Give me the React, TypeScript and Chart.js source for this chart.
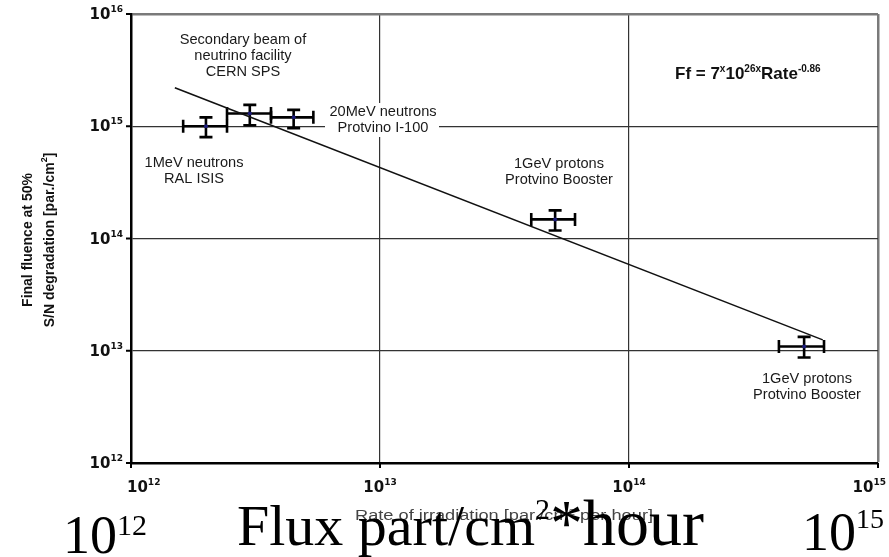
import React, { useEffect, useRef } from "react";
import { Chart, registerables } from "chart.js";

Chart.register(...registerables);

// ---- data ----
const rateCenter = [2.0e12, 3.0e12, 4.5e12, 5.05e13, 5.05e14];
const rateLow = [1.62e12, 2.43e12, 3.65e12, 4.05e13, 4.0e14];
const rateHigh = [2.43e12, 3.65e12, 5.4e12, 6.07e13, 6.07e14];
const fluence = [1.0e15, 1.3e15, 1.2e15, 1.48e14, 1.09e13];
const fluenceLow = [8.0e14, 1.02e15, 0.96e15, 1.18e14, 8.7e12];
const fluenceHigh = [1.2e15, 1.55e15, 1.4e15, 1.78e14, 1.33e13];

const fitRate = [1.5e12, 6.0e14];
const fitFluence = [2.2e15, 1.25e13];

const xTickValues = [1e12, 1e13, 1e14, 1e15];
const xTickExponents = ["12", "13", "14", "15"];
const yTickValues = [1e12, 1e13, 1e14, 1e15, 1e16];
const yTickExponents = ["12", "13", "14", "15", "16"];

type Piece = { text: string; font: string; dy?: number };

function richWidth(ctx: CanvasRenderingContext2D, pieces: Piece[]) {
  let w = 0;
  for (const p of pieces) {
    ctx.font = p.font;
    w += ctx.measureText(p.text).width;
  }
  return w;
}

function drawRich(
  ctx: CanvasRenderingContext2D,
  pieces: Piece[],
  x: number,
  y: number,
  align: "left" | "center" | "right" = "left"
) {
  const w = richWidth(ctx, pieces);
  let cx = align === "left" ? x : align === "center" ? x - w / 2 : x - w;
  ctx.textAlign = "left";
  for (const p of pieces) {
    ctx.font = p.font;
    ctx.fillText(p.text, cx, y + (p.dy || 0));
    cx += ctx.measureText(p.text).width;
  }
}

const SANS = '"Liberation Sans", Arial, sans-serif';
const SERIF = '"Liberation Serif", "Times New Roman", serif';

const decorPlugin = {
  id: "decor",
  beforeDatasetsDraw(chart: any) {
    const ctx: CanvasRenderingContext2D = chart.ctx;
    const xs = chart.scales.x;
    const ys = chart.scales.y;
    ctx.save();
    ctx.strokeStyle = "#000";
    ctx.lineWidth = 2.6;
    const cap = 6.5;
    for (let i = 0; i < rateCenter.length; i++) {
      const px = xs.getPixelForValue(rateCenter[i]);
      const py = ys.getPixelForValue(fluence[i]);
      const xl = xs.getPixelForValue(rateLow[i]);
      const xh = xs.getPixelForValue(rateHigh[i]);
      const yl = ys.getPixelForValue(fluenceLow[i]);
      const yh = ys.getPixelForValue(fluenceHigh[i]);
      ctx.beginPath();
      ctx.moveTo(xl, py);
      ctx.lineTo(xh, py);
      ctx.moveTo(xl, py - cap);
      ctx.lineTo(xl, py + cap);
      ctx.moveTo(xh, py - cap);
      ctx.lineTo(xh, py + cap);
      ctx.moveTo(px, yl);
      ctx.lineTo(px, yh);
      ctx.moveTo(px - cap, yl);
      ctx.lineTo(px + cap, yl);
      ctx.moveTo(px - cap, yh);
      ctx.lineTo(px + cap, yh);
      ctx.stroke();
    }
    ctx.restore();
  },
  afterDraw(chart: any) {
    const ctx: CanvasRenderingContext2D = chart.ctx;
    const xs = chart.scales.x;
    const ys = chart.scales.y;
    const area = chart.chartArea;
    ctx.save();

    // tick marks
    ctx.strokeStyle = "#000";
    ctx.lineWidth = 2;
    ctx.beginPath();
    yTickValues.forEach((v) => {
      const py = ys.getPixelForValue(v);
      ctx.moveTo(area.left - 5, py);
      ctx.lineTo(area.left, py);
    });
    xTickValues.forEach((v) => {
      const px = xs.getPixelForValue(v);
      ctx.moveTo(px, area.bottom);
      ctx.lineTo(px, area.bottom + 5);
    });
    ctx.stroke();

    // tick labels
    ctx.fillStyle = "#111";
    const tickFont = `bold 15px "DejaVu Sans", ${SANS}`;
    const supFont = `bold 9px "DejaVu Sans", ${SANS}`;
    yTickValues.forEach((v, i) => {
      const py = ys.getPixelForValue(v);
      const pieces: Piece[] = [
        { text: "10", font: tickFont },
        { text: yTickExponents[i], font: supFont, dy: -7 },
      ];
      drawRich(ctx, pieces, area.left - 8, py + 5, "right");
    });
    xTickValues.forEach((v, i) => {
      const px = xs.getPixelForValue(v);
      const pieces: Piece[] = [
        { text: "10", font: tickFont },
        { text: xTickExponents[i], font: supFont, dy: -7 },
      ];
      const w = richWidth(ctx, pieces);
      let left = px - w / 2;
      left = Math.max(area.left - 4, Math.min(left, 886 - w));
      drawRich(ctx, pieces, left, area.bottom + 29, "left");
    });

    // y axis title
    ctx.fillStyle = "#111";
    ctx.save();
    ctx.translate(28, 240);
    ctx.rotate(-Math.PI / 2);
    ctx.textBaseline = "middle";
    drawRich(ctx, [{ text: "Final fluence at 50%", font: `bold 14px ${SANS}` }], 0, 0, "center");
    ctx.restore();
    ctx.save();
    ctx.translate(50, 240);
    ctx.rotate(-Math.PI / 2);
    ctx.textBaseline = "middle";
    drawRich(
      ctx,
      [
        { text: "S/N degradation [par./cm", font: `bold 14px ${SANS}` },
        { text: "2", font: `bold 9px ${SANS}`, dy: -5 },
        { text: "]", font: `bold 14px ${SANS}` },
      ],
      0,
      0,
      "center"
    );
    ctx.restore();
    ctx.textBaseline = "alphabetic";

    // annotations
    const annFont = `14.6px ${SANS}`;
    ctx.textBaseline = "middle";
    ctx.fillStyle = "#1a1a1a";
    const centerLines = (lines: string[], x: number, y0: number, step: number) => {
      ctx.font = annFont;
      ctx.textAlign = "center";
      lines.forEach((l, k) => ctx.fillText(l, x, y0 + k * step));
    };
    centerLines(["Secondary beam of", "neutrino facility", "CERN SPS"], 243, 40, 16);
    centerLines(["1MeV neutrons", "RAL ISIS"], 194, 163, 16);
    ctx.fillStyle = "#fff";
    ctx.fillRect(325, 103, 114, 34);
    ctx.fillStyle = "#1a1a1a";
    centerLines(["20MeV neutrons", "Protvino I-100"], 383, 112, 16);
    centerLines(["1GeV protons", "Protvino Booster"], 559, 164, 16);
    centerLines(["1GeV protons", "Protvino Booster"], 807, 379, 16);

    // formula
    ctx.textBaseline = "alphabetic";
    ctx.fillStyle = "#111";
    const fb = `bold 17px ${SANS}`;
    const fs = `bold 10px ${SANS}`;
    drawRich(
      ctx,
      [
        { text: "Ff = 7", font: fb },
        { text: "x", font: fs, dy: -7 },
        { text: "10", font: fb },
        { text: "26x", font: fs, dy: -7 },
        { text: "Rate", font: fb },
        { text: "-0.86", font: fs, dy: -7 },
      ],
      675,
      79,
      "left"
    );

    // small x-axis title (horizontally stretched like the source)
    ctx.fillStyle = "#444";
    const titlePieces: Piece[] = [
      { text: "Rate of irradiation [par./cm", font: `14px ${SANS}` },
      { text: "2", font: `9px ${SANS}`, dy: -5 },
      { text: " per hour]", font: `14px ${SANS}` },
    ];
    const tw = richWidth(ctx, titlePieces);
    ctx.save();
    ctx.translate(355, 520);
    ctx.scale(298 / tw, 1);
    drawRich(ctx, titlePieces, 0, 0, "left");
    ctx.restore();

    // big overlay text
    ctx.fillStyle = "#000";
    drawRich(
      ctx,
      [
        { text: "10", font: `54px ${SERIF}` },
        { text: "12", font: `30px ${SERIF}`, dy: -18 },
      ],
      63,
      553,
      "left"
    );
    drawRich(
      ctx,
      [
        { text: "Flux part/cm", font: `58px ${SERIF}` },
        { text: "2", font: `30px ${SERIF}`, dy: -26 },
        { text: "*hour", font: `66px ${SERIF}` },
      ],
      237,
      545,
      "left"
    );
    drawRich(
      ctx,
      [
        { text: "10", font: `54px ${SERIF}` },
        { text: "15", font: `28px ${SERIF}`, dy: -22 },
      ],
      802,
      550,
      "left"
    );

    ctx.restore();
  },
};

export default function App() {
  const ref = useRef<HTMLCanvasElement>(null);
  useEffect(() => {
    if (!ref.current) return;
    const chart = new Chart(ref.current, {
      type: "scatter",
      data: {
        datasets: [
          {
            label: "points",
            data: rateCenter.map((x, i) => ({ x, y: fluence[i] })),
            pointRadius: 2,
            pointBackgroundColor: "#1c1c7a",
            pointBorderWidth: 0,
            showLine: false,
          },
          {
            label: "fit",
            data: fitRate.map((x, i) => ({ x, y: fitFluence[i] })),
            showLine: true,
            borderColor: "#111",
            borderWidth: 1.6,
            pointRadius: 0,
          },
        ],
      },
      options: {
        responsive: false,
        maintainAspectRatio: false,
        animation: false,
        layout: { padding: { left: 131, right: 11, top: 14, bottom: 94 } },
        plugins: { legend: { display: false }, tooltip: { enabled: false } },
        scales: {
          x: {
            type: "logarithmic",
            min: 1e12,
            max: 1e15,
            ticks: { display: false },
            afterBuildTicks: (scale: any) => {
              scale.ticks = xTickValues.map((value) => ({ value }));
            },
            afterFit: (scale: any) => {
              scale.height = 0;
            },
            grid: {
              drawTicks: false,
              color: (c: any) => (c.tick && c.tick.value === 1e15 ? "#7a7a7a" : "#333"),
              lineWidth: (c: any) => (c.tick && c.tick.value === 1e15 ? 2.5 : 1.2),
            },
            border: { display: true, color: "#000", width: 2.5 },
          },
          y: {
            type: "logarithmic",
            min: 1e12,
            max: 1e16,
            ticks: { display: false },
            afterBuildTicks: (scale: any) => {
              scale.ticks = yTickValues.map((value) => ({ value }));
            },
            afterFit: (scale: any) => {
              scale.width = 0;
            },
            grid: {
              drawTicks: false,
              color: (c: any) => (c.tick && c.tick.value === 1e16 ? "#7a7a7a" : "#333"),
              lineWidth: (c: any) => (c.tick && c.tick.value === 1e16 ? 2.5 : 1.2),
            },
            border: { display: true, color: "#000", width: 2.5 },
          },
        },
      },
      plugins: [decorPlugin],
    } as any);
    return () => chart.destroy();
  }, []);
  return (
    <div style={{ position: "fixed", left: 0, top: 0, width: 889, height: 557, background: "#fff" }}>
      <canvas ref={ref} width={889} height={557} style={{ display: "block", width: 889, height: 557 }} />
    </div>
  );
}
